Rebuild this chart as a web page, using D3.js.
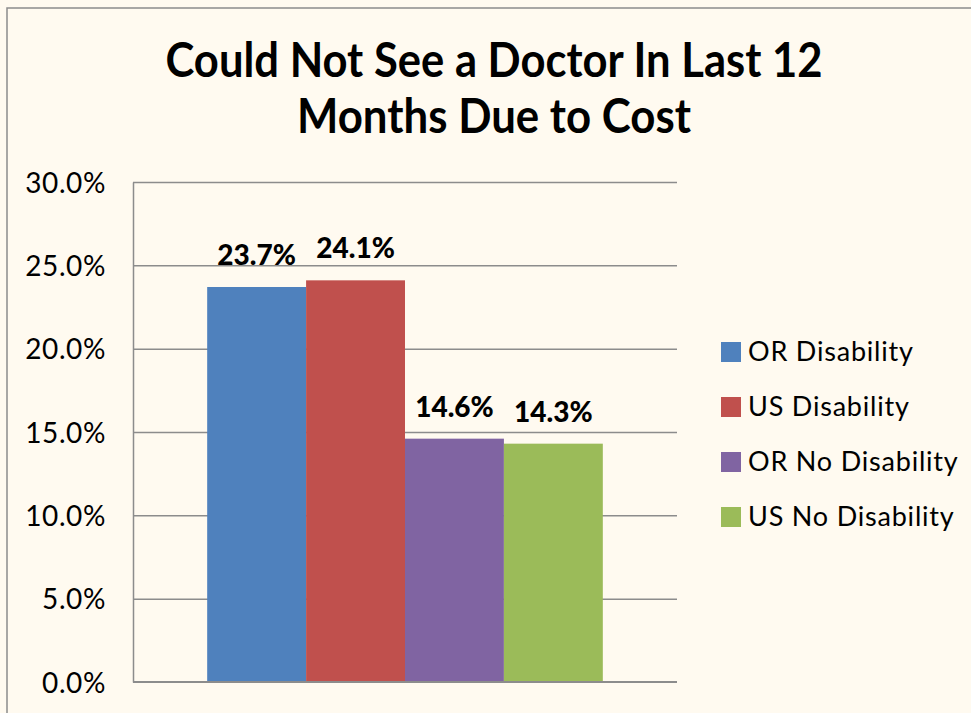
<!DOCTYPE html>
<html>
<head>
<meta charset="utf-8">
<script src="https://cdn.jsdelivr.net/npm/d3@7"></script>
<style>
  body { margin: 0; background: #fffaf0; }
  svg text { font-family: Lato, "Open Sans", sans-serif; fill: #000; }
</style>
</head>
<body>
<svg id="chart" width="971" height="713"></svg>
<script>
// data
const titleLines = ['Could Not See a Doctor In Last 12', 'Months Due to Cost'];
const series = ['OR Disability', 'US Disability', 'OR No Disability', 'US No Disability'];
const values = [0.237, 0.241, 0.146, 0.143];
const colors = ['#4f81bd', '#c0504d', '#8064a2', '#9bbb59'];
const yTicks = [0, 0.05, 0.10, 0.15, 0.20, 0.25, 0.30];

const svg = d3.select('#chart');

// background and outer frame
svg.append('rect')
  .attr('width', 971).attr('height', 713)
  .attr('fill', '#fffaf0');
svg.append('rect')
  .attr('x', 7).attr('y', 8)
  .attr('width', 980).attr('height', 720)
  .attr('fill', 'none')
  .attr('stroke', '#8c8c8c')
  .attr('stroke-width', 1.5);

// title
svg.append('g')
  .selectAll('text')
  .data(titleLines)
  .join('text')
    .attr('x', 494)
    .attr('y', (d, i) => 77 + i * 56)
    .attr('text-anchor', 'middle')
    .attr('font-size', 47)
    .attr('font-weight', 'bold')
    .attr('textLength', (d, i) => i === 0 ? 657 : 394)
    .attr('lengthAdjust', 'spacingAndGlyphs')
    .text(d => d);

// plot area
const plotLeft = 133, plotRight = 677, plotTop = 182, plotBottom = 682;

const y = d3.scaleLinear()
  .domain([0, 0.30])
  .range([plotBottom, plotTop]);

const x = d3.scaleBand()
  .domain(series)
  .range([plotLeft, plotRight])
  .paddingInner(0)
  .paddingOuter(0.75);

// gridlines
svg.append('g')
  .attr('transform', `translate(${plotLeft},0)`)
  .call(d3.axisLeft(y).tickValues(yTicks.slice(1)).tickSize(-(plotRight - plotLeft)).tickFormat(''))
  .call(g => g.select('.domain').remove())
  .call(g => g.selectAll('line').attr('stroke', '#8c8c8c').attr('stroke-width', 1.5));

// y axis
svg.append('g')
  .attr('transform', `translate(${plotLeft},0)`)
  .call(d3.axisLeft(y).tickValues(yTicks).tickSize(0).tickPadding(27).tickFormat(d3.format('.1%')))
  .call(g => g.select('.domain').attr('stroke', '#8c8c8c').attr('stroke-width', 1.5))
  .call(g => g.selectAll('text').attr('font-size', 28).attr('letter-spacing', 0.6).attr('dy', '0.36em'));

// bars
svg.append('g')
  .selectAll('rect')
  .data(series)
  .join('rect')
    .attr('x', d => x(d))
    .attr('y', (d, i) => y(values[i]))
    .attr('width', x.bandwidth())
    .attr('height', (d, i) => plotBottom - y(values[i]))
    .attr('fill', (d, i) => colors[i]);

// x axis line
svg.append('line')
  .attr('x1', plotLeft).attr('x2', plotRight)
  .attr('y1', plotBottom).attr('y2', plotBottom)
  .attr('stroke', '#8c8c8c')
  .attr('stroke-width', 2);

// value labels
svg.append('g')
  .selectAll('text')
  .data(series)
  .join('text')
    .attr('x', d => x(d) + x.bandwidth() / 2)
    .attr('y', (d, i) => y(values[i]) - 22)
    .attr('text-anchor', 'middle')
    .attr('font-size', 28)
    .attr('font-weight', 900)
    .text((d, i) => d3.format('.1%')(values[i]));

// legend
const legend = svg.append('g')
  .selectAll('g')
  .data(series)
  .join('g')
    .attr('transform', (d, i) => `translate(721,${342 + i * 55})`);

legend.append('rect')
  .attr('width', 20).attr('height', 20)
  .attr('fill', (d, i) => colors[i]);

legend.append('text')
  .attr('x', 27)
  .attr('y', 19)
  .attr('font-size', 27)
  .attr('letter-spacing', 0.8)
  .text(d => d);
</script>
</body>
</html>
